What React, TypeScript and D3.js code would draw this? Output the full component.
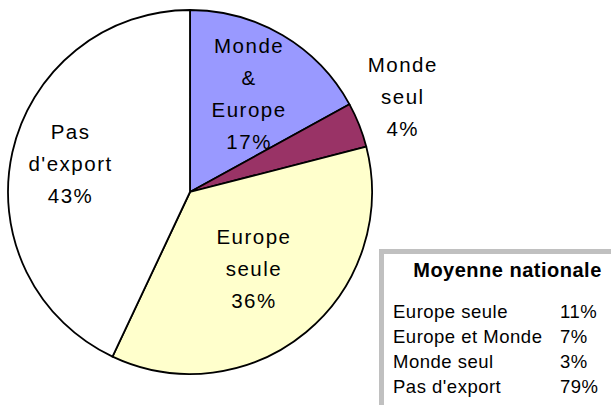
import React from "react";
import * as d3 from "d3";

const categories = ["Monde & Europe", "Monde seul", "Europe seule", "Pas d'export"];
const values = [17, 4, 36, 43];
const labelLines = [["Monde", "&", "Europe", "17%"], ["Monde", "seul", "4%"], ["Europe", "seule", "36%"], ["Pas", "d'export", "43%"]];
const colors = ["#9999FF", "#993366", "#FFFFCC", "#FFFFFF"];

const legendTitle = "Moyenne nationale";
const legendCategories = ["Europe seule", "Europe et Monde", "Monde seul", "Pas d'export"];
const legendValues = [11, 7, 3, 79];

// layout
const W = 611, H = 405;
const cx = 190, cy = 192, R = 182;
const labelRadiusFactor = [0.63, 1.28, 0.545, 0.68];
const labelAngleShift = [0, -0.05, 0, 0.02];
const lineH = 32;

export default function App() {
  const pie = d3.pie<number>().sort(null).value((d) => d)(values);
  const arc = d3.arc<d3.PieArcDatum<number>>().innerRadius(0).outerRadius(R);
  const font = "'Liberation Sans', Arial, sans-serif";
  return (
    <svg width={W} height={H} style={{ position: "absolute", left: 0, top: 0 }} fontFamily={font}>
      <rect width={W} height={H} fill="#fff" />
      <g transform={`translate(${cx},${cy})`}>
        {pie.map((p, i) => (
          <path key={categories[i]} d={arc(p) || ""} fill={colors[i]} stroke="#000" strokeWidth={1.8} strokeLinejoin="round" />
        ))}
        {pie.map((p, i) => {
          const a = (p.startAngle + p.endAngle) / 2 + labelAngleShift[i];
          const r = R * labelRadiusFactor[i];
          const x = Math.sin(a) * r;
          const y = -Math.cos(a) * r;
          const lines = labelLines[i];
          const firstBase = y + 8 - ((lines.length - 1) * lineH) / 2;
          return (
            <text key={"l" + i} fontSize={20.5} letterSpacing={1.5} textAnchor="middle" fill="#000">
              {lines.map((t, j) => (
                <tspan key={j} x={x + 0.75} y={firstBase + j * lineH}>{t}</tspan>
              ))}
            </text>
          );
        })}
      </g>
      <rect x={381.5} y={251.5} width={300} height={200} fill="#fff" stroke="#c0c0c0" strokeWidth={5} />
      <text x={507.5} y={277} fontSize={20} fontWeight="bold" letterSpacing={0.5} textAnchor="middle">{legendTitle}</text>
      {legendCategories.map((c, i) => (
        <g key={c} fontSize={18.5} letterSpacing={0.5}>
          <text x={393} y={318 + i * 25}>{c}</text>
          <text x={560} y={318 + i * 25}>{legendValues[i] + "%"}</text>
        </g>
      ))}
    </svg>
  );
}
